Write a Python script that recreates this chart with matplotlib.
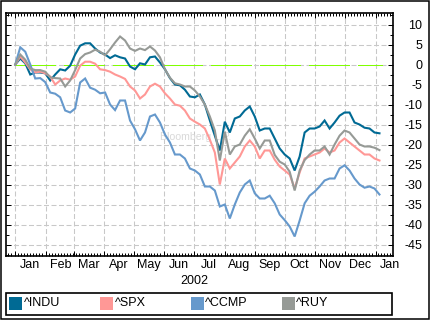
import matplotlib
matplotlib.use('Agg')
import matplotlib.pyplot as plt
import matplotlib.dates as mdates
import matplotlib.patches as mpatches
import matplotlib.ticker as mticker
import pandas as pd

# ---------------- data (percent change, 2002) ----------------
dates = pd.date_range('2002-01-01', '2003-01-05', periods=74)

indu = [0, 1.5, 0.3, -2.5, -2, -2, -2.2, -4, -2.5, -1.2,
        -1.5, -0.3, 2.5, 4.7, 5.3, 5.3, 4, 3, 2.5, 1.6,
        2.3, 1.8, 1.5, -0.5, -1.2, 0.3, 0, 1.8, 2, 0.5,
        -1.2, -3.4, -5, -5.2, -6.3, -8, -8.2, -7.5, -10, -14,
        -17.8, -21.5, -14.3, -17, -13.5, -13, -11.5, -10.5, -13, -16.5,
        -16, -16, -18.5, -21, -22.5, -23.5, -26.5, -23, -17, -16,
        -16, -15.5, -14, -16, -14.5, -12.8, -12, -12, -14.5, -15,
        -15.8, -16, -17, -17.2]
spx = [0, 2, 0.5, -1.2, -2, -1.8, -2.2, -3, -5, -4,
       -3.5, -3.8, -3, -0.3, 0.7, 0.7, 0.2, -1.2, -1.4, -1.8,
       -2.5, -3, -3.6, -5.5, -6.5, -8.5, -7.5, -5.5, -4.8, -5.5,
       -7.2, -8.5, -10, -10.3, -11.5, -13.5, -14.3, -15, -16, -18.8,
       -22, -30, -23.5, -26, -24.5, -23, -20.5, -19, -20.5, -23.5,
       -21.5, -21.5, -23.8, -25.5, -26.5, -27.5, -31, -27, -23.5, -23,
       -22.5, -22, -21, -22, -21.5, -19.5, -18.5, -19.5, -20.5, -21.5,
       -22.5, -22.5, -23.5, -24]
ccmp = [0, 4.3, 3.2, 0, -3.5, -3.4, -4.4, -7, -7.3, -8.2,
        -11.5, -12, -11, -4.5, -3.5, -5.8, -6.3, -7.2, -7, -10,
        -11.4, -9, -9, -14, -16.2, -19, -17, -13, -12.5, -14.5,
        -17.5, -19.5, -22.5, -22.5, -23.5, -26, -26.5, -27.5, -30.5, -30.5,
        -31.5, -35.5, -35, -38.5, -35, -32, -30, -29, -32.2, -33.5,
        -33.5, -32.8, -34.7, -37.5, -38.9, -40.5, -43, -39, -34.7, -32.8,
        -31.8, -30.5, -29, -28.5, -28.5, -26, -25.2, -26.5, -28.5, -30,
        -30.8, -30.5, -31, -32.5]
ruy = [0, 2.5, 1.2, -1, -1.4, -1.4, -1.8, -3.2, -3.4, -3.5,
       -5.5, -4, -1.4, 1.5, 2.6, 3, 3.7, 3.2, 2.3, 3.8,
       5.5, 7, 6, 4, 3.4, 4, 3.6, 4.5, 3.5, 1.8,
       -1.2, -3.3, -4.7, -5, -5.5, -5.5, -6.5, -8, -10, -13,
       -16.5, -24, -16.8, -22.5, -20.5, -20, -17.8, -16.2, -18.5, -21,
       -19, -19, -22.6, -24.3, -25, -26.8, -31.5, -26.5, -23.9, -22.5,
       -21.5, -21.5, -20.5, -22.5, -20, -17.8, -16.5, -17, -18.5, -20,
       -20.5, -20.5, -20.8, -21.4]

names = ['^INDU', '^SPX', '^CCMP', '^RUY']
series = [indu, spx, ccmp, ruy]
colors = ['#006a94', '#ff9896', '#6699cc', '#969a96']
month_labels = ['Jan', 'Feb', 'Mar', 'Apr', 'May', 'Jun', 'Jul',
                'Aug', 'Sep', 'Oct', 'Nov', 'Dec', 'Jan']
year_label = '2002'
watermark = 'Bloomberg L.P.'

# ---------------- figure ----------------
plt.rcParams['font.family'] = ['Liberation Sans', 'DejaVu Sans']
plt.rcParams['font.size'] = 9

W, H = 430, 321
fig = plt.figure(figsize=(W / 100, H / 100), dpi=100)
fig.patch.set_facecolor('white')
ax = fig.add_axes([6 / W, 1 - 256 / H, 387 / W, 243 / H])

x0 = mdates.date2num(pd.Timestamp('2002-01-01'))
ax.set_xlim(x0 - 9.4, x0 + 382.7)
ax.set_ylim(-47.875, 12.875)

# grid
ax.xaxis.set_major_locator(mdates.MonthLocator())
ax.xaxis.set_minor_locator(mdates.DayLocator(bymonthday=[4, 7, 10, 13, 16, 19, 22, 25, 28]))
ax.yaxis.set_major_locator(mticker.MultipleLocator(5))
ax.yaxis.set_minor_locator(mticker.MultipleLocator(2.5))
ax.grid(True, which='major', color='#c8c8c8', lw=0.75, linestyle=(0, (4.8, 2.4)), zorder=0)
ax.set_axisbelow(True)

# watermark
ax.text((160 - 6) / 387, 1 - (137.5 - 13) / 243, watermark, transform=ax.transAxes,
        color='#d9d9d9', fontsize=7.6, va='center', ha='left', zorder=1)

# zero reference line
zero_x = [dates[0], dates[-1] + pd.Timedelta(days=3)]
ax.plot(zero_x, [0, 0], color='#80ff00', lw=0.9, antialiased=False,
        linestyle=(0, (32, 6.9)), zorder=2.5)

# series
for i in [2, 1, 3, 0]:
    ax.plot(dates, series[i], color=colors[i], lw=1.5, zorder=3 + i,
            solid_joinstyle='miter')

# spines and ticks
for s in ax.spines.values():
    s.set_linewidth(1.2)
    s.set_color('black')

ax.tick_params(axis='both', which='both', direction='in', top=True, bottom=True,
               left=True, right=True, width=0.72, color='black')
ax.tick_params(axis='both', which='major', length=3.8)
ax.tick_params(axis='both', which='minor', length=2.2)
ax.tick_params(axis='x', which='both', labelbottom=False, labeltop=False)
ax.tick_params(axis='y', which='major', labelleft=False, labelright=True, pad=20.9,
               labelsize=9)
ax.yaxis.set_major_formatter(mticker.FuncFormatter(lambda v, p: '%d' % round(v)))
for tk in ax.yaxis.get_major_ticks():
    tk.label2.set_horizontalalignment('right')

# month labels (centred in each month)
label_dates = pd.date_range('2002-01-01', periods=13, freq='MS') + pd.Timedelta(days=15)
for d, lab in zip(label_dates, month_labels):
    ax.text(d, -0.037, lab, transform=ax.get_xaxis_transform(), ha='center',
            va='center', fontsize=9)
ax.text(pd.Timestamp('2002-07-01'), -0.103, year_label, transform=ax.get_xaxis_transform(),
        ha='center', va='center', fontsize=9)

# legend box
fig.patches.append(mpatches.Rectangle((6 / W, 1 - 315 / H), 386 / W, 22 / H,
                                      transform=fig.transFigure, fill=False,
                                      edgecolor='black', lw=1.2))
for i, nm in enumerate(names):
    px = 9.3 + 90.8 * i
    fig.patches.append(mpatches.Rectangle((px / W, 1 - 309.5 / H), 13 / W, 13 / H,
                                          transform=fig.transFigure,
                                          facecolor=colors[i], edgecolor='none'))
    fig.text((px + 14.5) / W, 1 - 303 / H, nm, ha='left', va='center', fontsize=9)

# outer border
fig.patches.append(mpatches.Rectangle((1 / W, 1 - 319.3 / H), 427.5 / W, 318.6 / H,
                                      transform=fig.transFigure, fill=False,
                                      edgecolor='black', lw=1.1))

fig.savefig('out.png', dpi=100)
